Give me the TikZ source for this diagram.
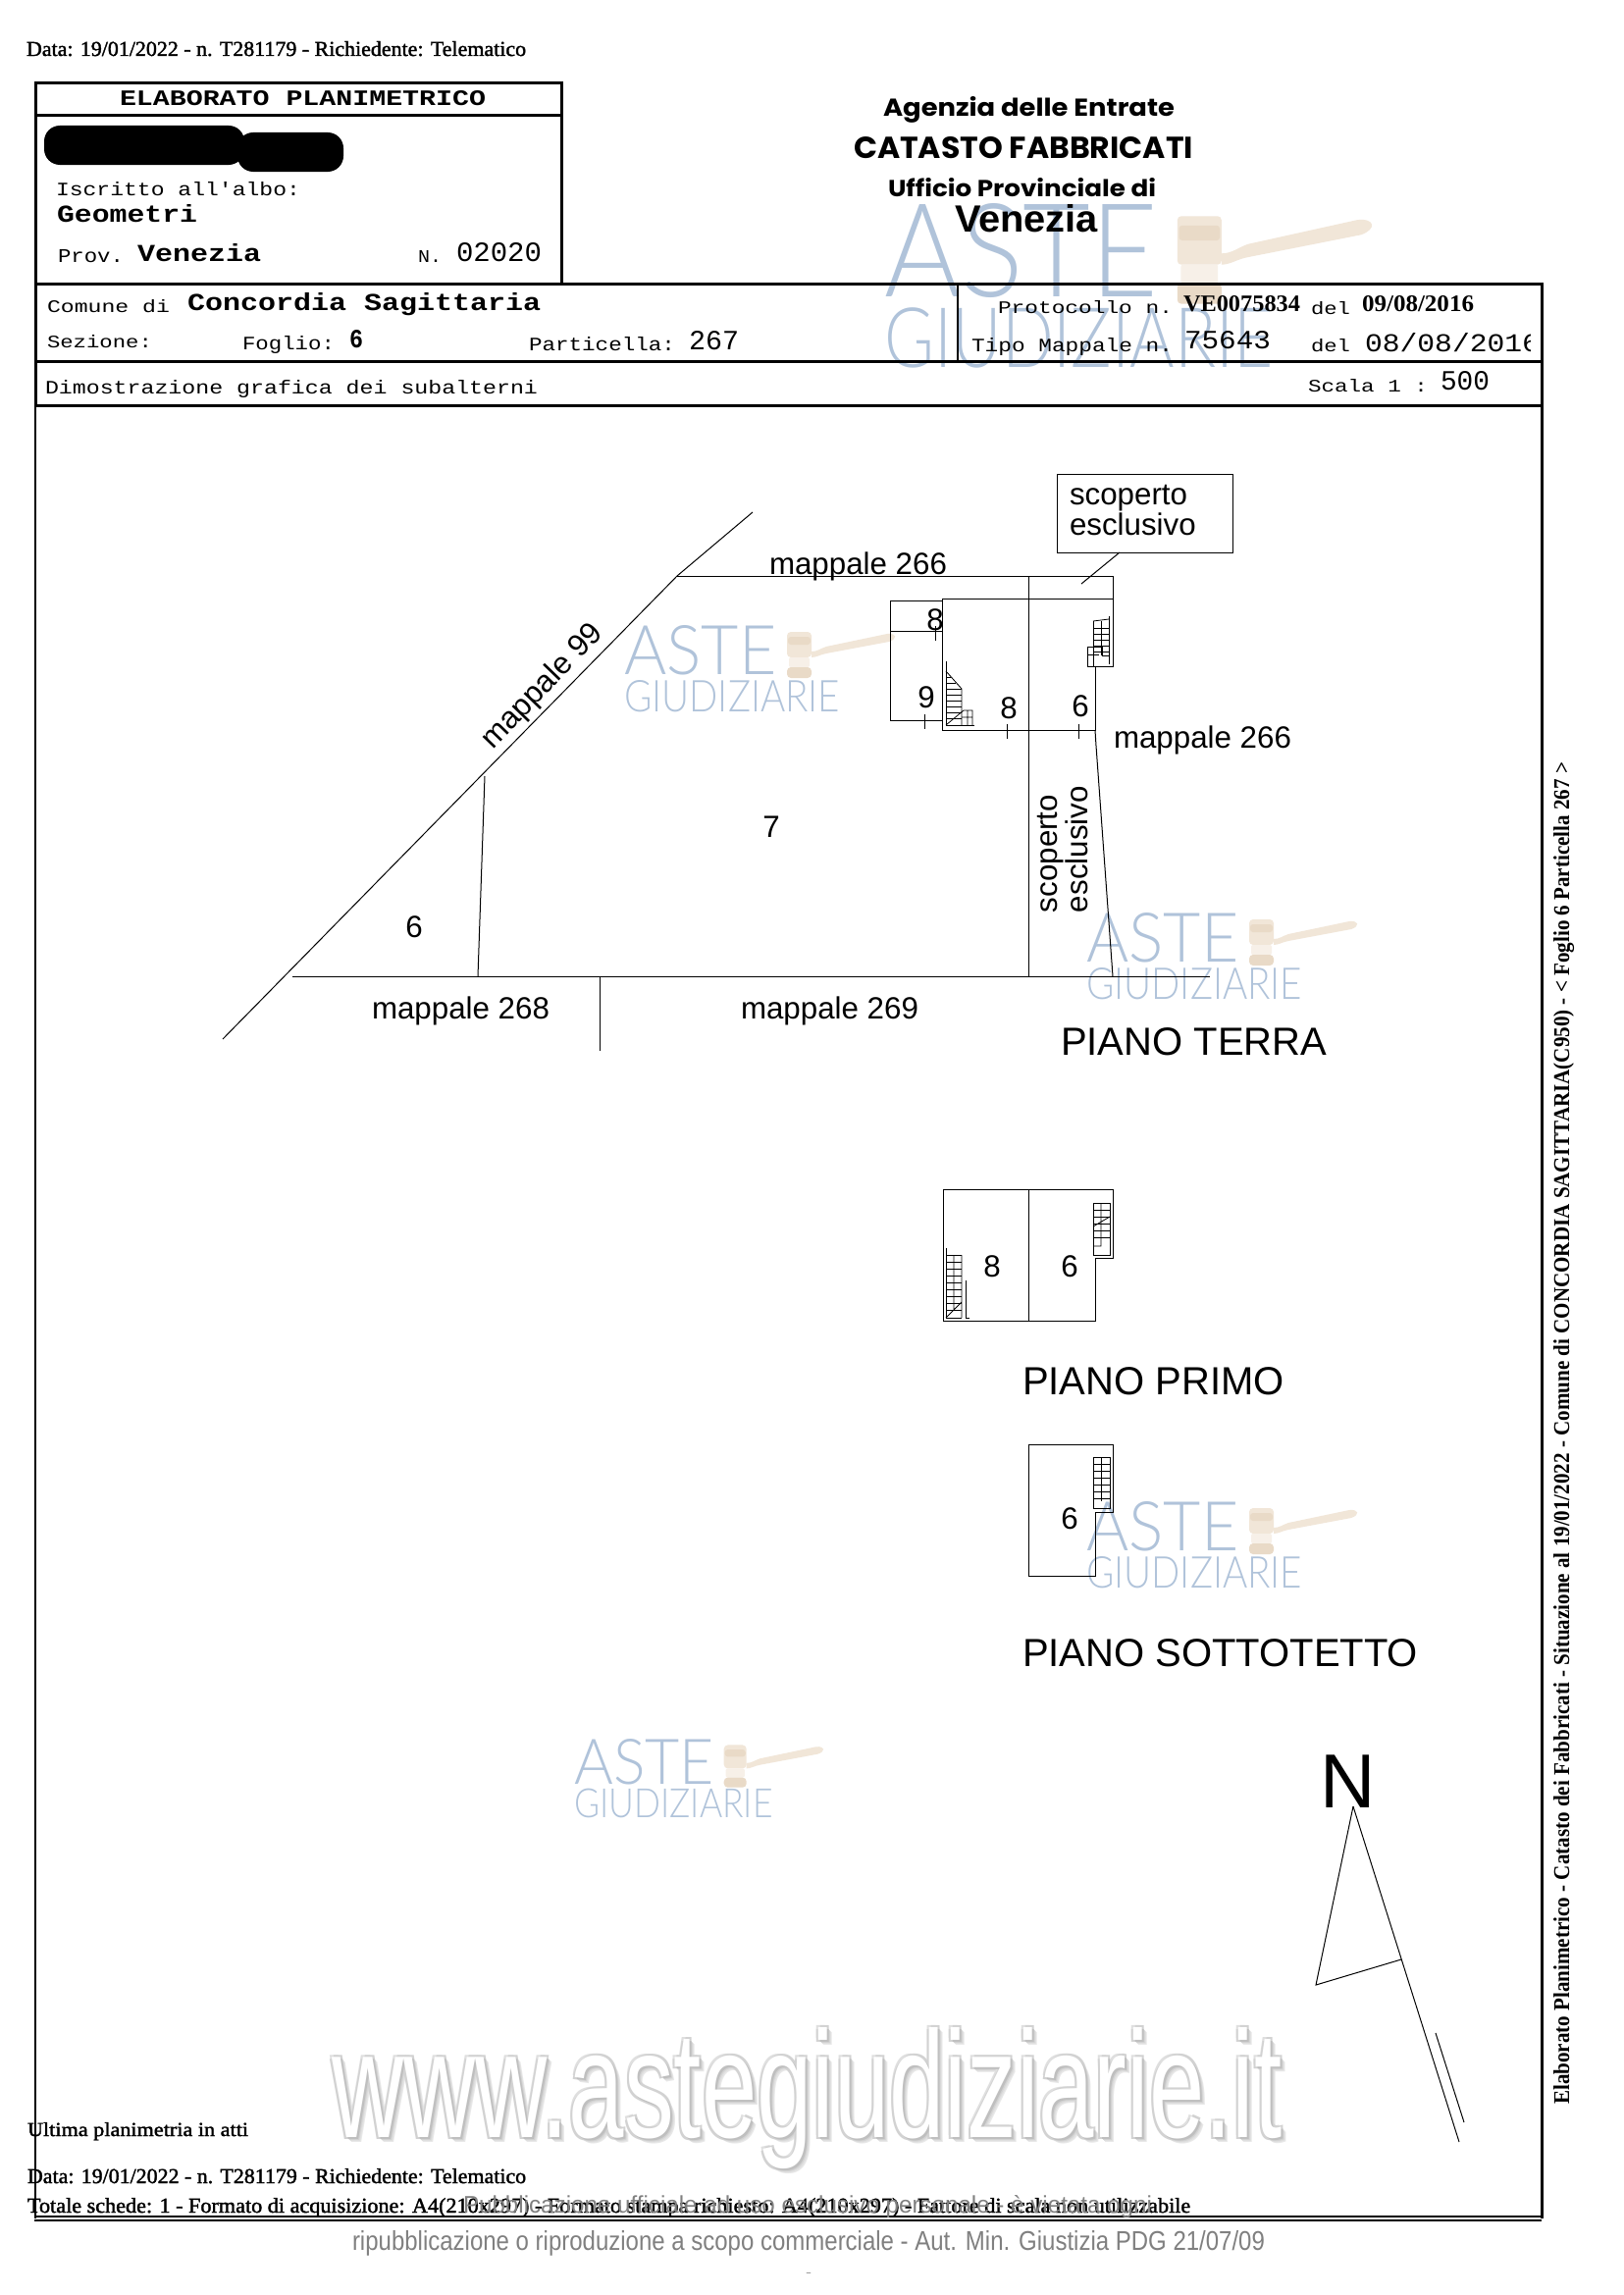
\documentclass[tikz,border=0pt]{standalone}
\usepackage{graphicx}
\usepackage{fontspec}
\setmainfont{Liberation Serif}
\setsansfont{Liberation Sans}
\setmonofont{Liberation Mono}
\newfontfamily\wmfont{Lato Light}
\newfontfamily\geofont{Poppins}
\newfontfamily\serifb[FakeBold=1.6]{Liberation Serif}
\definecolor{wmblue}{HTML}{B0C3DA}
\definecolor{wmtan}{HTML}{F1E6D8}
\definecolor{wmtand}{HTML}{E9DAC7}
\newcounter{tcnt}
% fitted text: x, y (baseline left), width, height, font, text
\newcommand{\stx}[6]{\stepcounter{tcnt}\node[fit text] (t\thetcnt) at (#1,#2) {\resizebox{#3pt}{#4pt}{#5#6}};}
% natural text in the drafting sans face
\newcommand{\lbl}[4][]{\stepcounter{tcnt}\node[plan label,#1] (t\thetcnt) at (#2,#3) {#4};}
% watermark: x, y, xscale, yscale
\newcommand{\wmark}[4]{%
\begin{scope}[shift={(#1,#2)},xscale=#3,yscale=#4,transform shape]
  \stepcounter{tcnt}\node[anchor=base west,inner sep=0pt] (t\thetcnt) at (0,50) {\resizebox{155pt}{50pt}{\wmfont\color{wmblue}ASTE}};
  \stepcounter{tcnt}\node[anchor=base west,inner sep=0pt] (t\thetcnt) at (0,88) {\resizebox{220pt}{32pt}{\wmfont\color{wmblue}GIUDIZIARIE}};
  \fill[wmtan] (191,27) .. controls (197,27) and (200,24) .. (206,22) -- (268,9) .. controls (278,8) and (279,14) .. (270,17) -- (206,29) .. controls (200,30) and (196,33) .. (191,33) -- cycle;
  \fill[wmtan,rounded corners=4pt] (166,7) rectangle (191,33);
  \fill[wmtan!60!white,rounded corners=2pt] (168,33) rectangle (189,43);
  \fill[wmtand,rounded corners=4pt] (166,43) rectangle (191,54);
  \fill[wmtand,rounded corners=3pt] (167,12) rectangle (190,20);
\end{scope}}
\tikzset{
  x=1pt,y=-1pt,
  fit text/.style={anchor=base west,inner sep=0pt,outer sep=0pt},
  plan label/.style={inner sep=0pt,outer sep=0pt,font=\sffamily\fontsize{31.3}{33}\selectfont},
  big label/.style={anchor=base west,font=\sffamily\fontsize{40}{42}\selectfont},
  frame/.style={line width=3pt,black},
  thinframe/.style={line width=1.6pt,black},
  planline/.style={line width=1pt,black},
  stairline/.style={line width=0.8pt,black},
}
\begin{document}
\begin{tikzpicture}
\useasboundingbox (0,0) rectangle (1654,2339);
\fill[white] (0,0) rectangle (1654,2339);
% watermarks
\wmark{901}{207}{1.8}{1.9}
\wmark{636}{637}{1}{1}
\wmark{1107}{930}{1}{1}
\wmark{1107}{1530}{1}{1}
\wmark{585}{1772}{0.92}{0.92}
% big site text
\foreach \dx/\dy/\cc in {5/5/gray!18,4/4/gray!25,3/3/gray!35,-2/-2/gray!25,-2/2/gray!35,2/-2/gray!35,2/2/gray!50}{
  \node[fit text] at (338+\dx,2178+\dy) {\resizebox{968pt}{112pt}{\sffamily\color{\cc}www.astegiudiziarie.it}};
}
\stx{338}{2178}{968}{112}{\sffamily\color{white}}{www.astegiudiziarie.it}
% frames
\draw[frame] (36,85) rectangle (572,289);
\draw[frame] (36,118) -- (572,118);
\draw[frame] (36,289) rectangle (1571,368);
\draw[frame] (36,368) rectangle (1571,413);
\draw[thinframe] (976,289) -- (976,368);
\draw[thinframe] (36,413) -- (36,2261);
\draw[frame] (1571,413) -- (1571,2261);
\draw[thinframe] (35,2259) -- (1571,2259);
\draw[thinframe] (35,2263) -- (1571,2263);
% redaction
\fill[black,rounded corners=16pt] (45,128) rectangle (249,168);
\fill[black,rounded corners=16pt] (242,135) rectangle (350,175);
% top text
\stx{27}{57}{509}{15}{\serifb}{Data: 19/01/2022 - n. T281179 - Richiedente: Telematico}
\stx{122}{108}{373}{15}{\ttfamily\bfseries}{ELABORATO PLANIMETRICO}
\stx{57}{199}{249}{14}{\ttfamily}{Iscritto all'albo:}
\stx{58}{226}{143}{18}{\ttfamily\bfseries}{Geometri}
\stx{59}{267}{67}{13}{\ttfamily}{Prov.}
\stx{140}{266}{126}{18}{\ttfamily\bfseries}{Venezia}
\stx{426}{267}{24}{12}{\ttfamily}{N.}
\stx{465}{266}{87}{19}{\ttfamily}{02020}
\stx{48}{318}{125}{13}{\ttfamily}{Comune di}
\stx{191}{316}{360}{18}{\ttfamily\bfseries}{Concordia Sagittaria}
\stx{48}{354}{107}{13}{\ttfamily}{Sezione:}
\stx{247}{356}{94}{14}{\ttfamily}{Foglio:}
\stx{356}{354}{14}{18}{\ttfamily\bfseries}{6}
\stx{539}{357}{149}{14}{\ttfamily}{Particella:}
\stx{702}{356}{51}{19}{\ttfamily}{267}
\stx{46}{401}{502}{14}{\ttfamily}{Dimostrazione grafica dei subalterni}
\stx{900}{119}{297}{20}{\geofont\bfseries}{Agenzia delle Entrate}
\stx{870}{161}{346}{22}{\geofont\bfseries}{CATASTO FABBRICATI}
\stx{905}{200}{273}{19}{\geofont\bfseries}{Ufficio Provinciale di}
\stx{973}{236}{146}{28}{\sffamily\bfseries}{Venezia}
\stx{1017}{319}{178}{13}{\ttfamily}{Protocollo n.}
\stx{1206}{317}{119}{16}{\rmfamily\bfseries}{VE0075834}
\stx{1336}{320}{40}{13}{\ttfamily}{del}
\stx{1388}{317}{114}{16}{\rmfamily\bfseries}{09/08/2016}
\stx{990}{358}{205}{14}{\ttfamily}{Tipo Mappale n.}
\stx{1207}{355}{88}{18}{\ttfamily}{75643}
\stx{1336}{358}{40}{13}{\ttfamily}{del}
\begin{scope}
\clip (1380,330) rectangle (1559,366);
\stx{1391}{358}{178}{19}{\ttfamily}{08/08/2016}
\end{scope}
\stx{1333}{399}{122}{13}{\ttfamily}{Scala 1 :}
\stx{1468}{397}{50}{19}{\ttfamily}{500}
% plan: ground floor
\draw[planline] (767,522) -- (690,587) -- (227,1059);
\draw[planline] (690,587) -- (1134,587) -- (1134,679) -- (1108,679);
\draw[planline] (494,791) -- (487,995);
\draw[planline] (298,995) -- (1233,995);
\draw[planline] (611,995) -- (611,1071);
\draw[planline] (1048,587) -- (1048,995);
\draw[planline] (960,610) -- (1134,610);
\draw[planline] (960,610) -- (960,744) -- (1116,744) -- (1116,679);
\draw[planline] (1116,744) -- (1117,760) -- (1134,995);
\draw[planline] (960,612) -- (907,612) -- (907,734) -- (960,734);
\draw[planline] (907,643) -- (960,643);
\draw[planline] (953,638) -- (953,653);
\draw[planline] (942,728) -- (942,743);
\draw[planline] (1026,738) -- (1026,753);
\draw[planline] (1099,738) -- (1099,753);
% leader and box
\stepcounter{tcnt}
\node[draw,line width=1pt,minimum width=179pt,minimum height=80pt,anchor=north west,inner sep=0pt] (scbox) at (1077,483) {};
\draw[planline] (1141,563) -- (1102,595);
\lbl[anchor=base west]{1090}{514}{scoperto}
\lbl[anchor=base west]{1090}{545}{esclusivo}
% right stair, ground floor
\foreach \yy in {640,646,...,668}{\draw[stairline] (1114,\yy) -- (1130,\yy);}
\draw[stairline] (1114,633) -- (1114,660) (1122,633) -- (1122,668) (1130,628) -- (1130,677);
\draw[stairline] (1114,633) -- (1130,631);
\draw[stairline] (1108,659) -- (1123,659) (1108,667) -- (1120,667) (1108,659) -- (1108,679) (1114,659) -- (1114,679);
\draw[stairline] (1123,659) -- (1123,668) -- (1130,668);
% left stair, ground floor
\draw[stairline] (964,674) -- (964,739) -- (993,739);
\draw[stairline] (964,684) -- (980,702) -- (980,739);
\foreach \yy/\xx in {690/969,696/974,702/980,708/980,714/980,720/980,726/980,732/980}{\draw[stairline] (964,\yy) -- (\xx,\yy);}
\draw[stairline] (964,739) -- (982,724) -- (991,724) -- (991,739) (986,724) -- (986,739) (980,731) -- (991,731);
% labels ground floor
\lbl{953}{632}{8}
\lbl{944}{711}{9}
\lbl{1028}{722}{8}
\lbl{1101}{720}{6}
\lbl[anchor=base west]{784}{585}{mappale 266}
\lbl[anchor=base west]{1135}{762}{mappale 266}
\lbl[rotate=46]{553}{700}{mappale 99}
\lbl{786}{843}{7}
\lbl{422}{945}{6}
\lbl[anchor=base west]{379}{1038}{mappale 268}
\lbl[anchor=base west]{755}{1038}{mappale 269}
\lbl[anchor=base west,rotate=90]{1077}{930}{scoperto}
\lbl[anchor=base west,rotate=90]{1108}{930}{esclusivo}
\lbl[big label]{1081}{1075}{PIANO TERRA}
% first floor
\draw[planline] (961,1212) -- (1134,1212) -- (1134,1282) -- (1116,1282) -- (1116,1346) -- (961,1346) -- cycle;
\draw[planline] (1048,1212) -- (1048,1346);
\foreach \yy in {1233,1240,...,1265}{\draw[stairline] (1114,\yy) -- (1131,\yy);}
\draw[stairline] (1114,1226) -- (1131,1226) (1114,1226) -- (1114,1279) -- (1131,1279) -- (1131,1226);
\draw[stairline] (1122,1226) -- (1122,1270) -- (1114,1270) (1114,1250) -- (1131,1240);
\foreach \yy in {1279,1286,...,1335}{\draw[stairline] (964,\yy) -- (980,\yy);}
\draw[stairline] (964,1272) -- (964,1343) -- (980,1343);
\draw[stairline] (980,1279) -- (980,1343) (972,1279) -- (972,1334) (964,1343) -- (980,1327);
\draw[stairline] (984,1305) -- (984,1343) -- (988,1343);
\lbl{1011}{1291}{8}
\lbl{1090}{1291}{6}
\lbl[big label]{1042}{1421}{PIANO PRIMO}
% attic
\draw[planline] (1048,1472) -- (1134,1472) -- (1134,1541) -- (1116,1541) -- (1116,1606) -- (1048,1606) -- cycle;
\foreach \yy in {1492,1499,...,1527}{\draw[stairline] (1114,\yy) -- (1131,\yy);}
\draw[stairline] (1114,1485) -- (1131,1485) (1114,1485) -- (1114,1537) -- (1131,1537) -- (1131,1485);
\draw[stairline] (1122,1485) -- (1122,1530);
\lbl{1090}{1548}{6}
\lbl[big label]{1042}{1698}{PIANO SOTTOTETTO}
% north arrow
\lbl[anchor=base west,font=\sffamily\fontsize{78}{80}\selectfont]{1345}{1842}{N}
\draw[planline] (1379,1841) -- (1341,2023) -- (1428,1997);
\draw[planline] (1379,1841) -- (1487,2183);
\draw[planline] (1463,2072) -- (1492,2163);
% bottom text
\stx{28}{2177}{225}{14}{\serifb}{Ultima planimetria in atti}
\stx{28}{2225}{508}{15}{\serifb}{Data: 19/01/2022 - n. T281179 - Richiedente: Telematico}
\stx{28}{2255}{1185}{15}{\serifb}{Totale schede: 1 - Formato di acquisizione: A4(210x297) - Formato stampa richiesto: A4(210x297) - Fattore di scala non utilizzabile}
\stx{472}{2255}{702}{18}{\sffamily\color{gray}}{Pubblicazione ufficiale ad uso esclusivo personale - è vietata ogni}
\stx{359}{2293}{930}{20}{\sffamily\color{gray}}{ripubblicazione o riproduzione a scopo commerciale - Aut. Min. Giustizia PDG 21/07/09}
\stx{821}{2319}{6}{3}{\sffamily\color{gray}}{-}
% vertical text
\stepcounter{tcnt}
\node[anchor=base west,inner sep=0pt,rotate=90] (t\thetcnt) at (1599,2145) {\resizebox{1368pt}{16pt}{\rmfamily\bfseries Elaborato Planimetrico - Catasto dei Fabbricati - Situazione al 19/01/2022 - Comune di CONCORDIA SAGITTARIA(C950) - < Foglio 6 Particella 267 >}};
\end{tikzpicture}
\end{document}
